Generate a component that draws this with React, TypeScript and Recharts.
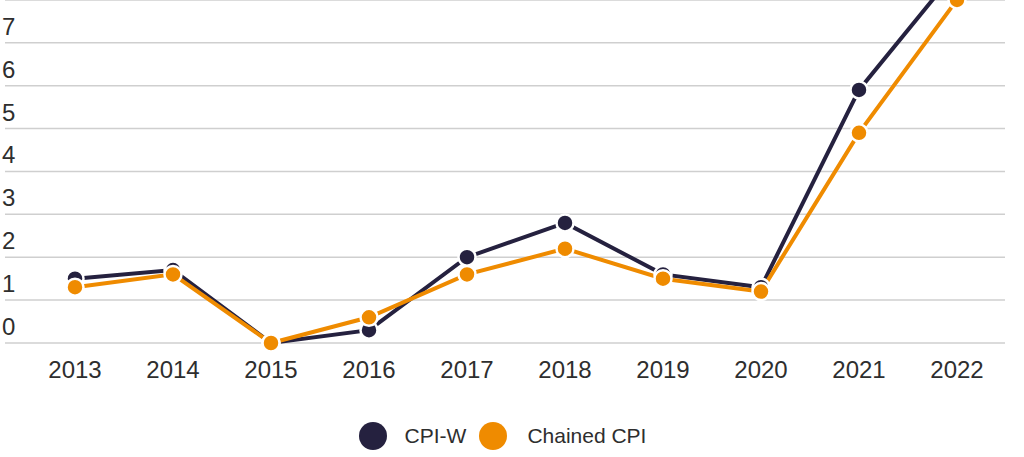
import React from 'react';
import { LineChart, Line, XAxis, YAxis, CartesianGrid, Legend } from 'recharts';

const years = ['2013', '2014', '2015', '2016', '2017', '2018', '2019', '2020', '2021', '2022'];
const cpiW = [1.5, 1.7, 0, 0.3, 2.0, 2.8, 1.6, 1.3, 5.9, 8.7];
const chainedCpi = [1.3, 1.6, 0, 0.6, 1.6, 2.2, 1.5, 1.2, 4.9, 8.0];
const yTicks = [0, 1, 2, 3, 4, 5, 6, 7, 8, 9];
const yLabelMax = 7;

const NAVY = '#25213f';
const ORANGE = '#ef8b00';
const TEXT = '#2e2e2e';
const FONT = '"Liberation Sans", Arial, sans-serif';

const data = years.map((y, i) => ({ year: y, cpiW: cpiW[i], chained: chainedCpi[i] }));

const XTick = (props: any) => {
  const { x, y, payload } = props;
  return (
    <text x={x} y={y + 27} textAnchor="middle" fill={TEXT} fontSize={24} fontFamily={FONT}>
      {payload.value}
    </text>
  );
};

const YTick = (props: any) => {
  const { y, payload } = props;
  if (payload.value > yLabelMax) return <g />;
  return (
    <text x={2} y={y - 8} textAnchor="start" fill={TEXT} fontSize={24} fontFamily={FONT}>
      {payload.value}
    </text>
  );
};

const LegendContent = () => (
  <div
    style={{
      display: 'flex',
      justifyContent: 'center',
      alignItems: 'center',
      height: 50,
      fontFamily: FONT,
      fontSize: 21,
      color: TEXT,
    }}
  >
    <svg width={28} height={28} style={{ marginRight: 18 }}>
      <circle cx={14} cy={14} r={14} fill={NAVY} />
    </svg>
    <span style={{ marginRight: 13 }}>CPI-W</span>
    <svg width={28} height={28} style={{ marginRight: 20 }}>
      <circle cx={14} cy={14} r={14} fill={ORANGE} />
    </svg>
    <span>Chained CPI</span>
  </div>
);

export default function App() {
  return (
    <div style={{ position: 'absolute', top: -50, left: 0 }}>
      <LineChart width={1024} height={520} data={data} margin={{ top: 7, right: 19, bottom: 9, left: 0 }}>
        <CartesianGrid vertical={false} stroke="#cfcfcf" strokeWidth={1.5} />
        <XAxis
          dataKey="year"
          padding={{ left: 70, right: 48 }}
          axisLine={false}
          tickLine={false}
          tick={<XTick />}
          height={68}
          interval={0}
        />
        <YAxis
          domain={[0, 9]}
          ticks={yTicks}
          width={5}
          axisLine={false}
          tickLine={false}
          tick={<YTick />}
          interval={0}
        />
        <Legend verticalAlign="bottom" height={50} content={<LegendContent />} />
        <Line
          dataKey="cpiW"
          name="CPI-W"
          stroke={NAVY}
          strokeWidth={4}
          dot={{ r: 8.5, fill: NAVY, stroke: '#fff', strokeWidth: 2.5 }}
          activeDot={false}
          isAnimationActive={false}
        />
        <Line
          dataKey="chained"
          name="Chained CPI"
          stroke={ORANGE}
          strokeWidth={4}
          dot={{ r: 8.5, fill: ORANGE, stroke: '#fff', strokeWidth: 2.5 }}
          activeDot={false}
          isAnimationActive={false}
        />
      </LineChart>
    </div>
  );
}
